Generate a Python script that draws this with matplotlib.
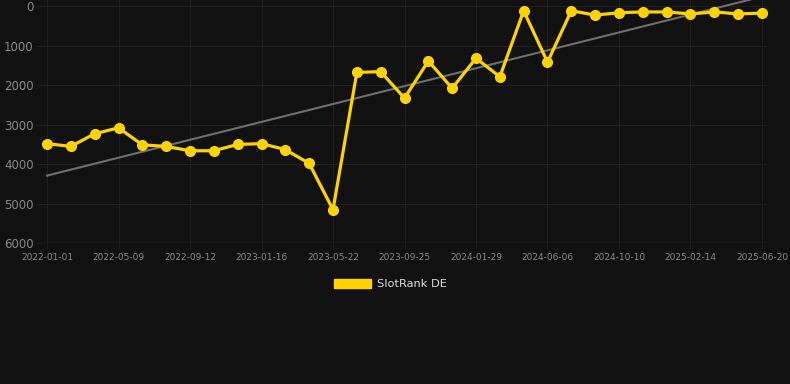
import numpy as np
import matplotlib
matplotlib.use("Agg")
import matplotlib.pyplot as plt
from matplotlib.patches import Patch

# dates of the points (every third one is labelled on the axis)
dates = ["2022-01-01", "2022-02-12", "2022-03-26", "2022-05-09", "2022-06-20",
         "2022-08-01", "2022-09-12", "2022-10-24", "2022-12-05", "2023-01-16",
         "2023-02-27", "2023-04-10", "2023-05-22", "2023-07-03", "2023-08-14",
         "2023-09-25", "2023-11-06", "2023-12-18", "2024-01-29", "2024-03-11",
         "2024-04-23", "2024-06-06", "2024-07-18", "2024-08-29", "2024-10-10",
         "2024-11-21", "2025-01-02", "2025-02-14", "2025-03-28", "2025-05-09",
         "2025-06-20"]
rank = [3480, 3550, 3230, 3080, 3510, 3550, 3660, 3660, 3500, 3480,
        3630, 3980, 5150, 1680, 1660, 2330, 1390, 2080, 1320, 1790,
        120, 1420, 120, 230, 170, 150, 150, 200, 150, 200, 180]
y_ticks = [0, 1000, 2000, 3000, 4000, 5000, 6000]

bg = "#111111"
gold = "#FFD200"

fig = plt.figure(figsize=(7.9, 3.84), dpi=100, facecolor=bg)
ax = fig.add_axes([42 / 790, 1 - 243.3 / 384, 725 / 790, 243.3 / 384])
ax.set_facecolor(bg)

x = np.arange(len(rank))
# trend line (least squares)
k, b = np.polyfit(x, rank, 1)
ax.plot(x, k * x + b, color="#6e6e6e", lw=1.5, zorder=2)

ax.plot(x, rank, color=gold, lw=2.3, marker="o", ms=7, zorder=3)

ax.set_xlim(-5 / 23.83, 30 + 5 / 23.83)
ax.set_ylim(6000, -152)
ax.set_yticks(y_ticks)
ax.set_xticks(x[::3])
ax.set_xticklabels(dates[::3])

ax.grid(True, color="#1e1e1e", lw=0.8)
for s in ax.spines.values():
    s.set_visible(False)
ax.axhline(6000, color="#262626", lw=1)
ax.tick_params(axis="y", labelsize=8.5, length=4, width=0.8, pad=2)
ax.tick_params(axis="x", labelsize=6.5, length=4, width=0.8, pad=3)
ax.tick_params(axis="both", color="#1e1e1e")
for lab in ax.get_yticklabels() + ax.get_xticklabels():
    lab.set_color("#888888")

fig.legend(handles=[Patch(facecolor=gold, edgecolor=gold)], labels=["SlotRank DE"],
           loc="center", bbox_to_anchor=(0.494, 1 - 284 / 384), frameon=False,
           handlelength=3.3, handleheight=0.9, handletextpad=0.5,
           fontsize=8.2, labelcolor="#dddddd")

fig.savefig("out.png", dpi=100, facecolor=bg)
